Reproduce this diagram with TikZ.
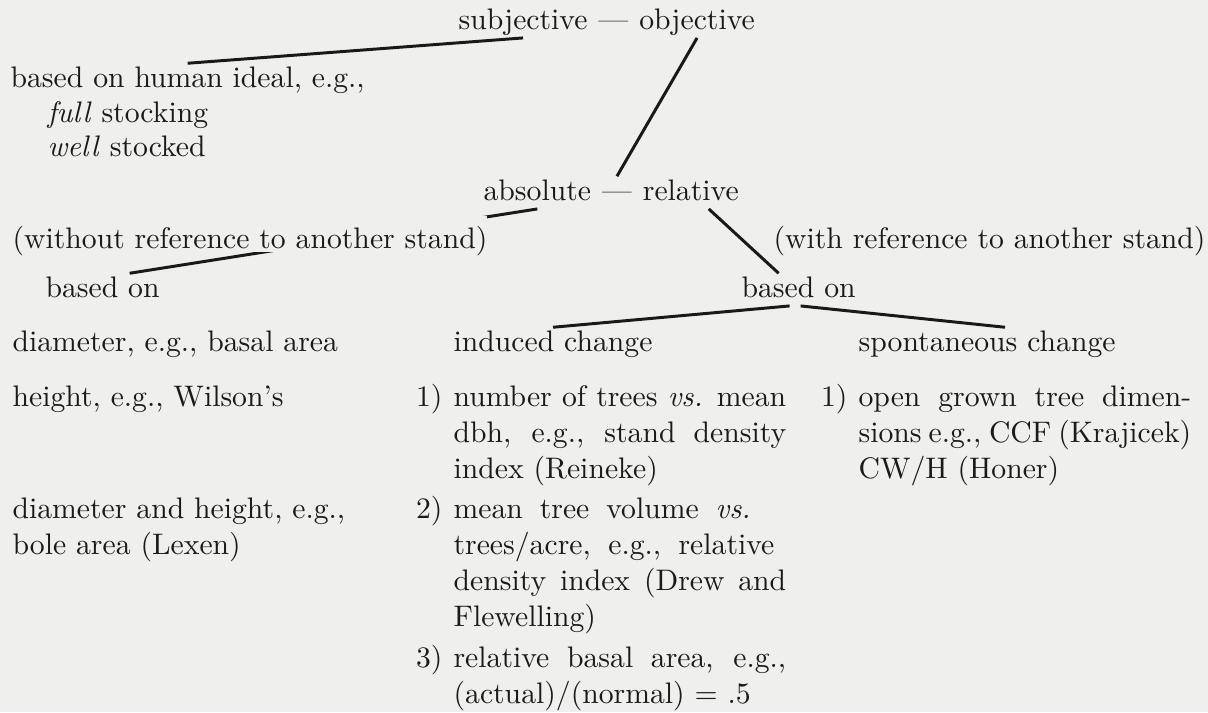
\documentclass[tikz,border=0pt]{standalone}
\usepackage{tikz}
\usetikzlibrary{positioning,calc}

\definecolor{paper}{RGB}{239,239,237}
\definecolor{ink}{RGB}{26,26,26}

\tikzset{
  txt/.style={anchor=base west, inner xsep=0pt, inner ysep=0.8pt,
    text height=7pt, text depth=2pt, text=ink},
  num/.style={txt, anchor=base east},
  branch/.style={line width=1pt, black!90}
}

\begin{document}
\begin{tikzpicture}[x=0.3367pt, y=-0.3367pt]

\useasboundingbox (0,0) rectangle (1208,712);
\fill [paper] (0,0) rectangle (1208,712);

% Top of the tree
\node (subj) at (458,29) [txt] {subjective};
\node (dashA) at (subj.base east) [txt] {\ ---\ \null};
\node (obj) at (dashA.base east) [txt] {objective};

\node (human) at (10,87) [txt] {based on human ideal, e.g.,};
\node (full) at (47,122) [txt] {\textit{full} stocking};
\node (well) at (47,156) [txt] {\textit{well} stocked};

\node (abs) at (483,200) [txt] {absolute};
\node (dashB) at (abs.base east) [txt] {\ ---\ \null};
\node (rel) at (dashB.base east) [txt] {relative};

% based on ...
\node (basedL) at (45,297) [txt] {based on};
\node (basedR) at (741,297) [txt] {based on};

\node (diam) at (12,351) [txt] {diameter, e.g., basal area};
\node (induced) at (453,351) [txt] {induced change};
\node (spont) at (858,351) [txt] {spontaneous change};

% Left column
\node (hgt) at (12,406) [txt] {height, e.g., Wilson's};
\node (dh1) at (12,518) [txt] {diameter and height, e.g.,};
\node (dh2) at (12,554) [txt] {bole area (Lexen)};

% Induced change: 1) to 3)
\node (n1) at (443,406) [num] {1)};
\node (ind1) at (453,406) [txt] {\makebox[112pt][s]{number of trees \textit{vs.} mean}};
\node (ind2) at (453,442) [txt] {\makebox[112pt][s]{dbh, e.g., stand density}};
\node (ind3) at (453,478) [txt] {index (Reineke)};

\node (n2) at (443,518) [num] {2)};
\node (ind4) at (453,518) [txt] {\makebox[100pt][s]{mean tree volume \textit{vs.}}};
\node (ind5) at (453,554) [txt] {\makebox[108pt][s]{trees/acre, e.g., relative}};
\node (ind6) at (453,590) [txt] {\makebox[112pt][s]{density index (Drew and}};
\node (ind7) at (453,626) [txt] {Flewelling)};

\node (n3) at (443,667) [num] {3)};
\node (ind8) at (453,667) [txt] {\makebox[112pt][s]{relative basal area, e.g.,}};
\node (ind9) at (453,703) [txt] {(actual)/(normal) $=$ .5};

% Spontaneous change: 1)
\node (s1) at (848,406) [num] {1)};
\node (spo1) at (858,406) [txt] {\makebox[112pt][s]{open grown tree dimen-}};
\node (spo2) at (858,442) [txt] {\makebox[112pt][s]{sions e.g., CCF (Krajicek)}};
\node (spo3) at (858,478) [txt] {CW/H (Honer)};

% Branches
\draw [branch] (human.north) -- (subj.south);
\draw [branch] (obj.south) -- (dashB.north);
\draw [branch] (abs.south) -- ($(basedL.north)+(27,0)$);
\draw [branch] ($(rel.south)+(18,0)$) -- ($(basedR.north)+(-20,0)$);
\draw [branch] ($(basedR.south)+(-9,0)$) -- (induced.north);
\draw [branch] ($(basedR.south)+(2,0)$) -- ($(spont.north)+(18,0)$);

% drawn last, so the branch runs under the text
\node (without) at (12,248) [txt, fill=paper, text height=10pt, text depth=0.5pt] {(without reference to another stand)};
\node (with) at (773,248) [txt, fill=paper] {(with reference to another stand)};

\end{tikzpicture}
\end{document}
